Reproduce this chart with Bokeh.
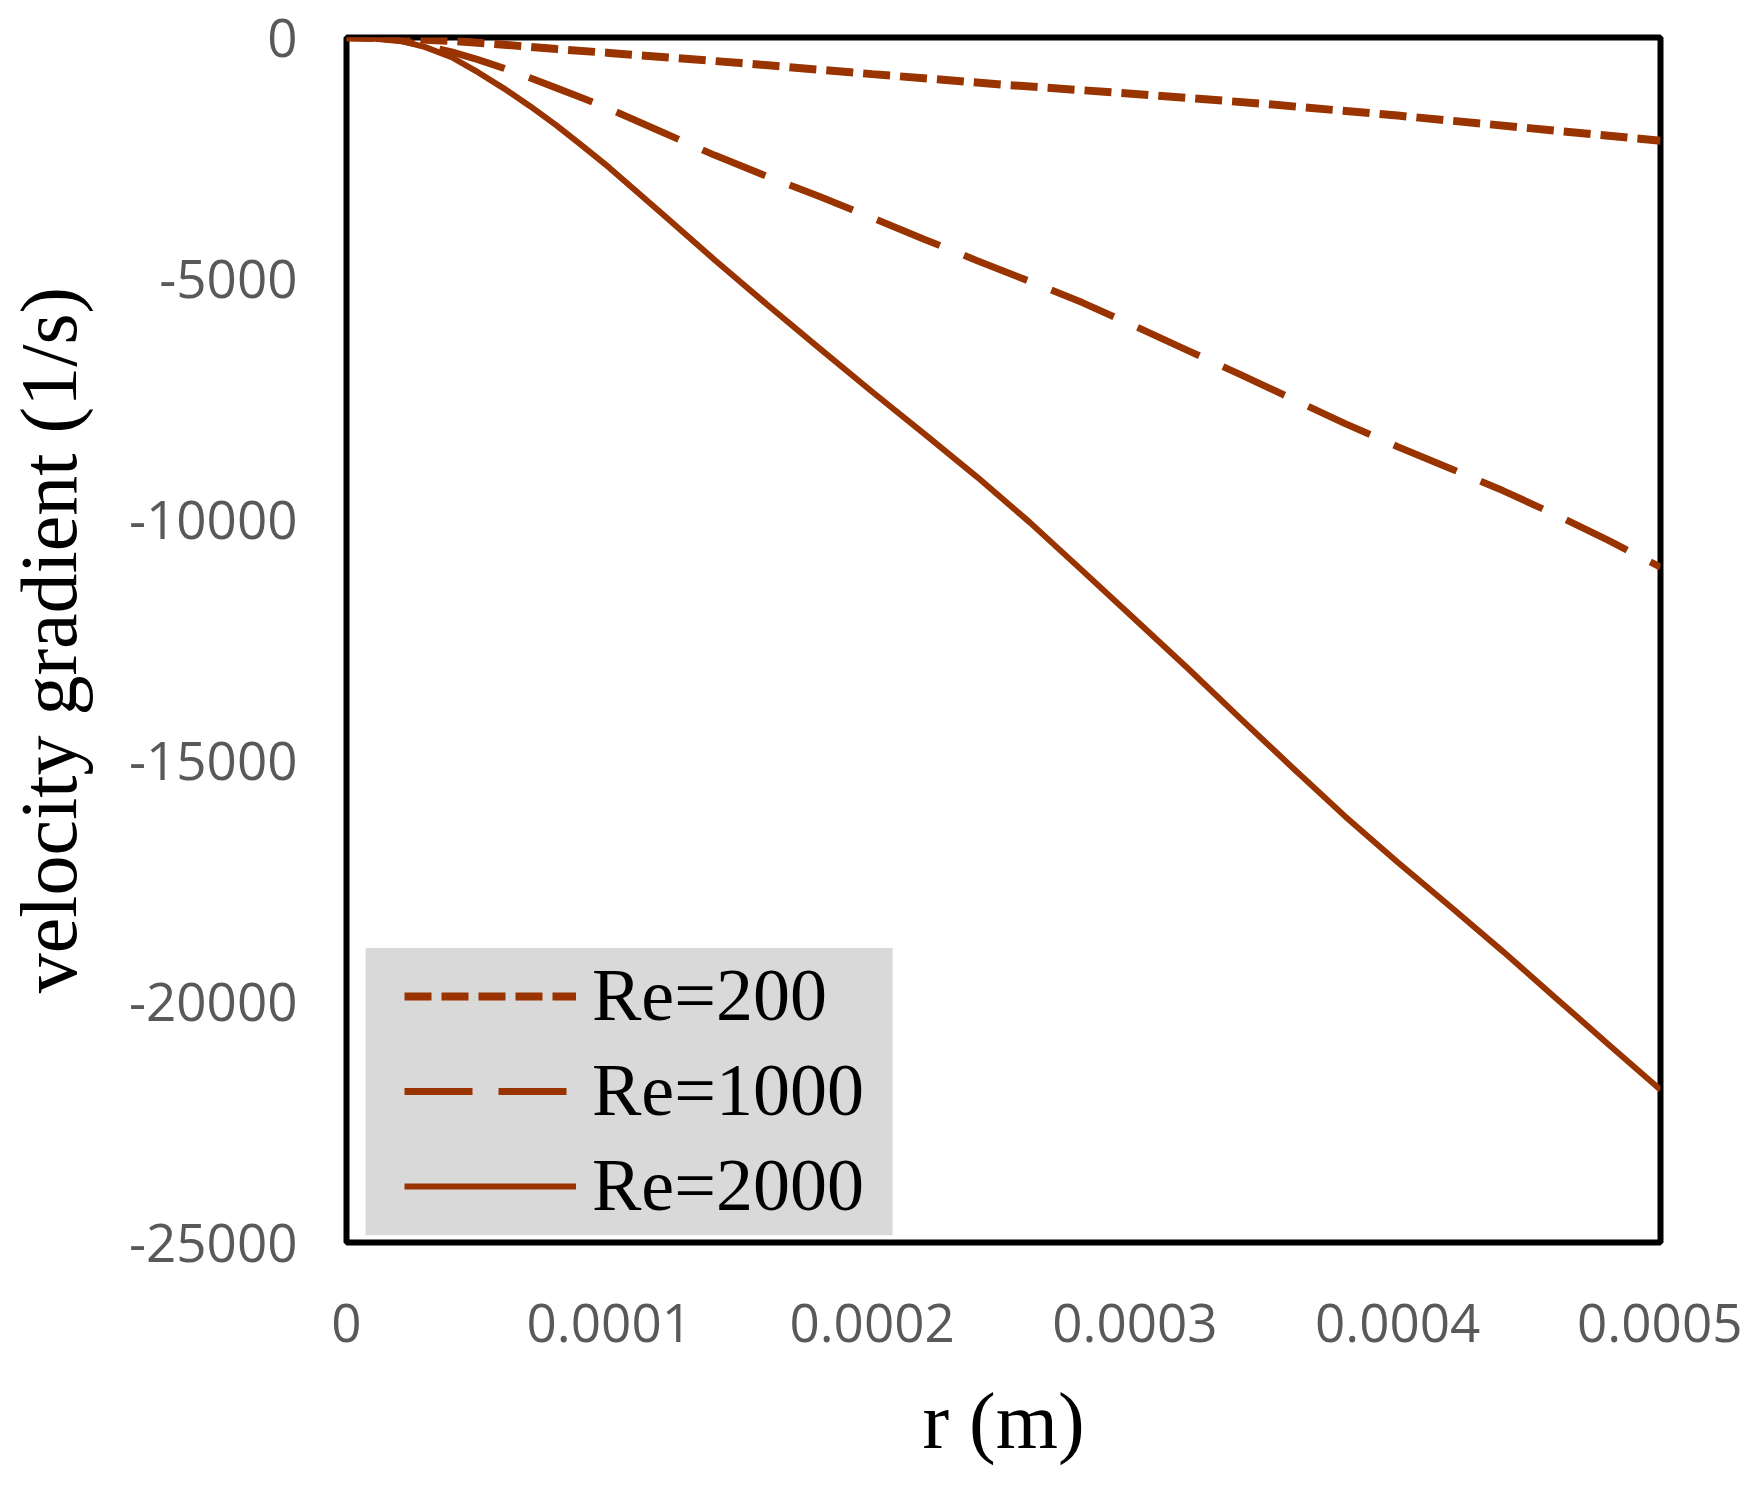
from bokeh.plotting import figure
from bokeh.models import (Range1d, FixedTicker, CustomJSTickFormatter, Legend,
                          LegendItem, BoxAnnotation)
from bokeh.embed import file_html
from bokeh.resources import INLINE

# ---- data ----
r_re200 = [0, 2e-5, 4e-5, 6e-5, 8e-5, 1e-4, 1.5e-4, 2e-4, 2.5e-4, 3e-4,
           3.5e-4, 4e-4, 4.5e-4, 5e-4]
g_re200 = [0, -20, -70, -150, -240, -320, -530, -760, -980, -1170,
           -1380, -1620, -1880, -2140]

r_grid = [0, 1e-5, 2e-5, 3e-5, 4e-5, 5e-5, 6e-5, 7e-5, 8e-5, 9e-5, 1e-4,
          1.2e-4, 1.4e-4, 1.6e-4, 1.8e-4, 2.0e-4, 2.2e-4, 2.4e-4, 2.6e-4,
          2.8e-4, 3.0e-4, 3.2e-4, 3.4e-4, 3.6e-4, 3.8e-4, 4.0e-4, 4.2e-4,
          4.4e-4, 4.6e-4, 4.8e-4, 5.0e-4]
g_re1000 = [0, -10, -60, -170, -300, -460, -640, -840, -1050, -1260, -1480,
            -1960, -2440, -2880, -3300, -3740, -4190, -4630, -5060,
            -5500, -5990, -6490, -6990, -7500, -8010, -8490, -8940,
            -9400, -9900, -10430, -10990]
g_re2000 = [0, -10, -60, -200, -410, -720, -1060, -1430, -1830, -2260, -2700,
            -3650, -4610, -5540, -6450, -7350, -8230, -9120, -10060,
            -11060, -12070, -13080, -14120, -15150, -16160, -17110, -18030,
            -18960, -19920, -20880, -21830]

labels = ["Re=200", "Re=1000", "Re=2000"]
x_ticks = [0, 0.0001, 0.0002, 0.0003, 0.0004, 0.0005]
y_ticks = [0, -5000, -10000, -15000, -20000, -25000]

color = "#993300"
tick_font = "Open Sans"
serif = "Liberation Serif"

p = figure(width=1742, height=1470, output_backend="svg", toolbar_location=None,
           x_range=Range1d(0, 0.0005), y_range=Range1d(-25000, 0),
           min_border_left=346, min_border_right=82,
           min_border_top=37, min_border_bottom=228)
p.xgrid.visible = False
p.ygrid.visible = False
p.outline_line_color = "black"
p.outline_line_width = 6
p.background_fill_color = "white"
p.border_fill_color = "white"

for ax in (p.xaxis[0], p.yaxis[0]):
    ax.axis_line_color = None
    ax.major_tick_line_color = None
    ax.minor_tick_line_color = None
    ax.major_tick_out = 0
    ax.major_tick_in = 0
    ax.major_label_text_font = tick_font
    ax.major_label_text_font_size = "53px"
    ax.major_label_text_color = "#595959"
    ax.axis_label_text_font = serif
    ax.axis_label_text_font_style = "normal"
    ax.axis_label_text_color = "black"

p.xaxis.ticker = FixedTicker(ticks=x_ticks)
p.xaxis.formatter = CustomJSTickFormatter(
    code="return tick == 0 ? '0' : tick.toFixed(4);")
p.xaxis.major_label_standoff = 61
p.xaxis.axis_label = "r (m)"
p.xaxis.axis_label_text_font_size = "80px"
p.xaxis.axis_label_standoff = 32

p.yaxis.ticker = FixedTicker(ticks=y_ticks)
p.yaxis.formatter = CustomJSTickFormatter(code="return tick.toFixed(0);")
p.yaxis.major_label_standoff = 49
p.yaxis.axis_label = "velocity gradient (1/s)"
p.yaxis.axis_label_text_font_size = "80px"
p.yaxis.axis_label_standoff = 33

# legend background box
legend_box = BoxAnnotation(left=7.25e-6, right=2.078e-4, top=-18890, bottom=-24850,
                           fill_color="#d9d9d9", fill_alpha=1.0, line_color=None)
p.add_layout(legend_box)

l1 = p.line(r_re200, g_re200, line_color=color, line_width=8, line_dash="27 10")
l2 = p.line(r_grid, g_re1000, line_color=color, line_width=7, line_dash="68 26")
l3 = p.line(r_grid, g_re2000, line_color=color, line_width=6)

legend = Legend(items=[LegendItem(label=labels[0], renderers=[l1]),
                       LegendItem(label=labels[1], renderers=[l2]),
                       LegendItem(label=labels[2], renderers=[l3])],
                location=(58, 14), padding=0, margin=0, spacing=10,
                glyph_width=172, glyph_height=84, label_height=84,
                label_standoff=16, label_text_font=serif,
                label_text_font_size="74px", label_text_color="black",
                background_fill_alpha=0, border_line_alpha=0)
p.add_layout(legend)

open("out.html", "w").write(file_html(p, INLINE))
